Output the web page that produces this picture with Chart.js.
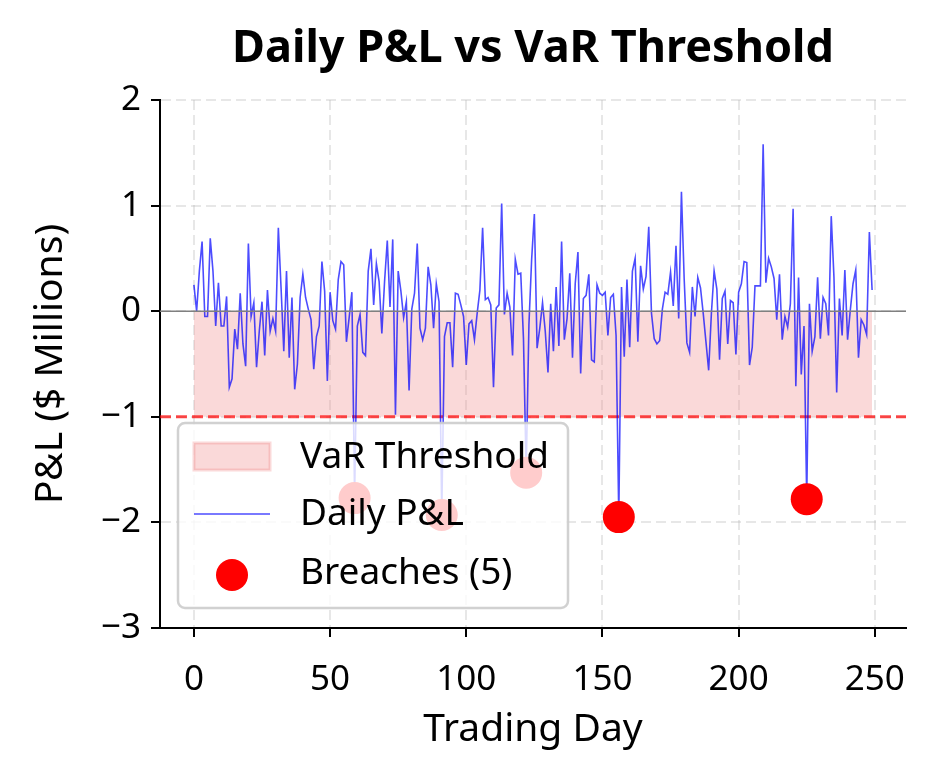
<!DOCTYPE html>
<html>
<head>
<meta charset="utf-8">
<script src="https://cdn.jsdelivr.net/npm/chart.js@4.4.0/dist/chart.umd.min.js"></script>
<style>
  html, body { margin: 0; padding: 0; background: #fff; }
  #wrap { width: 934px; height: 784px; }
</style>
</head>
<body>
<div id="wrap"><canvas id="chart" width="934" height="784"></canvas></div>
<script>
// data
const days = Array.from({ length: 250 }, (_, i) => i);
const pnl = [
  0.25, 0.00, 0.38, 0.66, -0.05, -0.05, 0.69, 0.38, -0.14, 0.27,
  -0.14, -0.14, 0.14, -0.72, -0.64, -0.17, -0.36, 0.17, -0.31, -0.52,
  0.64, -0.05, 0.08, -0.53, -0.19, 0.09, -0.42, 0.20, -0.19, -0.07,
  -0.19, 0.79, 0.22, -0.38, 0.38, -0.44, 0.13, -0.74, -0.50, 0.13,
  0.35, 0.13, 0.02, -0.08, -0.55, -0.24, -0.14, 0.47, 0.19, -0.66,
  0.18, -0.09, -0.17, 0.30, 0.47, 0.44, -0.29, -0.06, 0.18, -1.77,
  -0.14, -0.03, -0.39, -0.42, 0.38, 0.59, 0.06, 0.45, 0.28, -0.21,
  0.28, 0.67, 0.04, 0.68, -0.98, 0.38, 0.19, -0.06, 0.09, -0.75,
  0.02, 0.17, 0.64, -0.16, -0.27, -0.16, 0.42, 0.25, -0.16, 0.26,
  0.09, -1.93, -0.24, -0.11, -0.11, -0.53, 0.17, 0.16, 0.06, -0.05,
  -0.51, -0.12, -0.09, -0.27, -0.02, 0.20, 0.79, 0.11, 0.13, 0.06,
  -0.72, 0.03, 0.06, 1.02, -0.03, 0.17, 0.04, -0.42, 0.49, 0.35,
  0.36, -0.26, -1.53, -0.13, 0.49, 0.92, -0.35, -0.16, 0.08, -0.19,
  -0.58, 0.07, -0.38, 0.23, -0.33, 0.66, -0.27, -0.07, 0.36, -0.44,
  0.26, 0.56, -0.59, 0.12, 0.15, 0.35, -0.46, -0.48, 0.25, 0.17,
  0.15, 0.18, -0.23, 0.13, 0.16, -0.23, -1.95, 0.23, -0.43, 0.30,
  -0.34, 0.38, 0.50, -0.29, 0.43, 0.21, 0.33, 0.80, -0.02, -0.26,
  -0.31, -0.28, 0.02, 0.18, 0.16, 0.37, 0.05, 0.62, -0.07, 1.13,
  0.31, -0.30, -0.39, 0.23, -0.05, 0.32, 0.22, -0.02, -0.29, -0.56,
  -0.02, 0.38, 0.21, -0.46, 0.12, 0.19, -0.31, 0.10, 0.08, -0.41,
  0.18, 0.26, 0.47, 0.46, -0.51, -0.34, 0.24, 0.24, 0.24, 1.58,
  0.27, 0.50, 0.42, 0.31, -0.08, 0.35, -0.27, -0.05, -0.15, 0.07,
  0.97, -0.71, 0.32, -0.60, -0.14, -1.78, 0.07, -0.38, -0.24, 0.32,
  -0.26, 0.13, 0.07, -0.23, 0.90, 0.32, -0.77, 0.12, -0.23, 0.39,
  -0.27, 0.01, 0.26, 0.39, -0.44, -0.08, -0.13, -0.22, 0.75, 0.20
];
const varLevel = -1;
const breachDays = days.filter(d => pnl[d] < varLevel);
const xTicks = [0, 50, 100, 150, 200, 250];
const yTicks = [-3, -2, -1, 0, 1, 2];
const xMin = -12.45, xMax = 261.45;

const FONT = '"Noto Sans", sans-serif';
const FILL_PINK = 'rgba(240,128,128,0.3)';
const LINE_BLUE = 'rgba(0,0,255,0.7)';

// title drawn centered over the plot area
const titlePlugin = {
    id: 'axTitle',
    afterDraw(chart) {
        const { ctx, chartArea } = chart;
        ctx.save();
        ctx.font = 'bold 45px ' + FONT;
        ctx.fillStyle = '#000';
        ctx.textAlign = 'center';
        ctx.textBaseline = 'middle';
        ctx.fillText('Daily P&L vs VaR Threshold', (chartArea.left + chartArea.right) / 2, 49);
        ctx.restore();
    }
};

// legend inside the axes, lower left, like matplotlib's
const legendPlugin = {
    id: 'innerLegend',
    afterDraw(chart) {
        const { ctx } = chart;
        const ds = chart.data.datasets;
        const box = { x: 178, y: 423, w: 390, h: 185, r: 7 };
        ctx.save();
        ctx.beginPath();
        ctx.roundRect(box.x, box.y, box.w, box.h, box.r);
        ctx.fillStyle = 'rgba(255,255,255,0.8)';
        ctx.fill();
        ctx.lineWidth = 2.5;
        ctx.strokeStyle = 'rgba(204,204,204,0.9)';
        ctx.stroke();

        // patch
        ctx.fillStyle = FILL_PINK;
        ctx.fillRect(194, 443, 76, 27);
        ctx.lineWidth = 3;
        ctx.strokeStyle = FILL_PINK;
        ctx.strokeRect(194, 443, 76, 27);
        // line
        ctx.beginPath();
        ctx.moveTo(194, 514);
        ctx.lineTo(270, 514);
        ctx.lineWidth = 1.6;
        ctx.strokeStyle = LINE_BLUE;
        ctx.stroke();
        // marker
        ctx.beginPath();
        ctx.arc(232, 575, 16, 0, Math.PI * 2);
        ctx.fillStyle = '#ff0000';
        ctx.fill();

        ctx.font = '37px ' + FONT;
        ctx.fillStyle = '#000';
        ctx.textAlign = 'left';
        ctx.textBaseline = 'middle';
        const labels = [ds[0].label, ds[1].label, ds[2].label];
        ctx.fillText(labels[0], 300, 457);
        ctx.fillText(labels[1], 300, 514);
        ctx.fillText(labels[2], 300, 573);
        ctx.restore();
    }
};

const ctx = document.getElementById('chart');
new Chart(ctx, {
    type: 'line',
    data: {
        datasets: [
            {
                label: 'VaR Threshold',
                data: days.map(d => ({ x: d, y: varLevel })),
                fill: 'origin',
                backgroundColor: FILL_PINK,
                borderWidth: 0,
                pointRadius: 0,
                order: 5
            },
            {
                label: 'Daily P&L',
                data: days.map(d => ({ x: d, y: pnl[d] })),
                borderColor: LINE_BLUE,
                borderWidth: 1.6,
                pointRadius: 0,
                tension: 0,
                fill: false,
                order: 3
            },
            {
                label: 'Breaches (' + breachDays.length + ')',
                type: 'scatter',
                data: breachDays.map(d => ({ x: d, y: pnl[d] })),
                backgroundColor: '#ff0000',
                borderWidth: 0,
                pointRadius: 16,
                pointHoverRadius: 16,
                order: 0
            },
            {
                label: 'varLine',
                data: [{ x: xMin, y: varLevel }, { x: xMax, y: varLevel }],
                borderColor: 'rgba(255,0,0,0.7)',
                borderWidth: 3,
                borderDash: [11, 5],
                pointRadius: 0,
                fill: false,
                order: 4
            },
            {
                label: 'zeroLine',
                data: [{ x: xMin, y: 0 }, { x: xMax, y: 0 }],
                borderColor: '#808080',
                borderWidth: 1.6,
                pointRadius: 0,
                fill: false,
                order: 1
            }
        ]
    },
    options: {
        responsive: false,
        animation: false,
        devicePixelRatio: 1,
        layout: { padding: { top: 100, right: 28, bottom: 0, left: 0 } },
        plugins: {
            legend: { display: false },
            title: { display: false },
            tooltip: { enabled: false }
        },
        scales: {
            x: {
                type: 'linear',
                min: xMin,
                max: xMax,
                afterBuildTicks: (axis) => { axis.ticks = xTicks.map(v => ({ value: v })); },
                afterFit: (axis) => { axis.height = 156; },
                grid: {
                    color: 'rgba(176,176,176,0.3)',
                    lineWidth: 2,
                    tickColor: '#000',
                    tickWidth: 2,
                    tickLength: 9,
                    tickBorderDash: []
                },
                border: { display: true, color: '#000', width: 2, dash: [10, 5] },
                ticks: {
                    color: '#000',
                    font: { family: FONT, size: 35 },
                    padding: 22,
                    maxRotation: 0
                },
                title: {
                    display: true,
                    text: 'Trading Day',
                    color: '#000',
                    font: { family: FONT, size: 39 },
                    padding: { top: 0, bottom: 31 }
                }
            },
            y: {
                type: 'linear',
                min: -3,
                max: 2,
                afterBuildTicks: (axis) => { axis.ticks = yTicks.map(v => ({ value: v })); },
                afterFit: (axis) => { axis.width = 160; },
                grid: {
                    color: 'rgba(176,176,176,0.3)',
                    lineWidth: 2,
                    tickColor: '#000',
                    tickWidth: 2,
                    tickLength: 9,
                    tickBorderDash: []
                },
                border: { display: true, color: '#000', width: 2, dash: [10, 5] },
                ticks: {
                    color: '#000',
                    font: { family: FONT, size: 35 },
                    padding: 10,
                    callback: (v) => String(v).replace('-', '\u2212')
                },
                title: {
                    display: true,
                    text: 'P&L ($ Millions)',
                    color: '#000',
                    font: { family: FONT, size: 39 },
                    padding: { top: 27, bottom: 0 }
                }
            }
        }
    },
    plugins: [titlePlugin, legendPlugin]
});
</script>
</body>
</html>
